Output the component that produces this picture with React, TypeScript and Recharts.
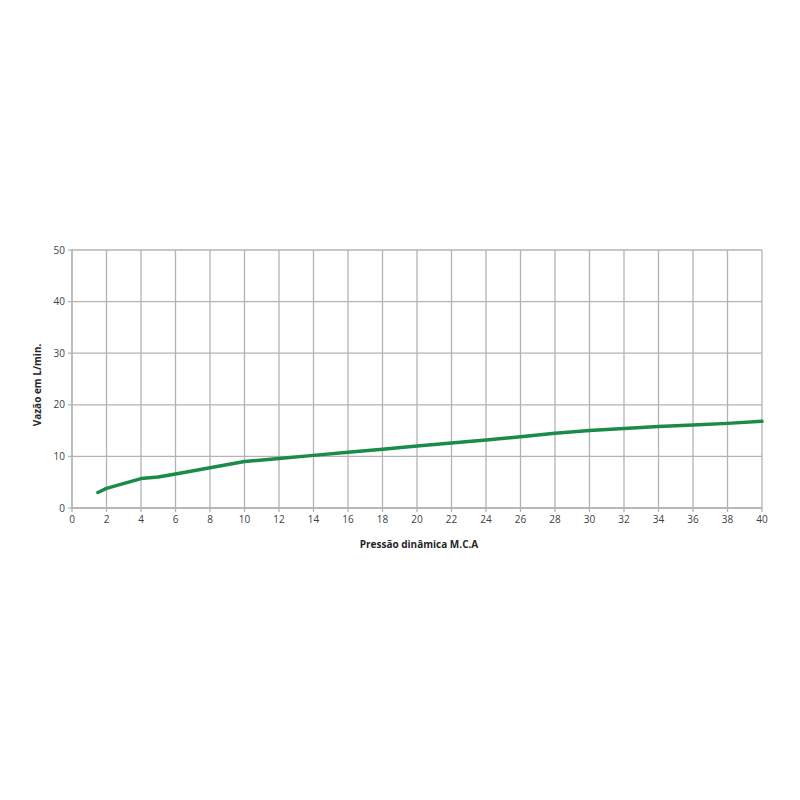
import { LineChart, Line, XAxis, YAxis, CartesianGrid, Label } from 'recharts';

const pressure = [1.5, 2, 4, 5, 6, 8, 10, 12, 14, 16, 18, 20, 22, 24, 26, 28, 30, 32, 34, 36, 38, 40];
const flow = [3.0, 3.8, 5.7, 6.0, 6.6, 7.8, 9.0, 9.6, 10.2, 10.8, 11.4, 12.0, 12.6, 13.2, 13.8, 14.5, 15.0, 15.4, 15.8, 16.1, 16.4, 16.8];
const xTicks = [0, 2, 4, 6, 8, 10, 12, 14, 16, 18, 20, 22, 24, 26, 28, 30, 32, 34, 36, 38, 40];
const yTicks = [0, 10, 20, 30, 40, 50];

const data = pressure.map((p, i) => ({ p, v: flow[i] }));

const grid = '#b3b3b3';
const tickStyle = { fontSize: 10, fill: '#404040', fontFamily: '"Open Sans", sans-serif' };

export default function App() {
  return (
    <div style={{ position: 'absolute', left: 0, top: 0, width: 800, height: 800, background: '#fff' }}>
      <LineChart width={800} height={800} data={data} margin={{ top: 250, right: 38, bottom: 248, left: 32 }}>
        <CartesianGrid stroke={grid} strokeWidth={1.3} verticalValues={xTicks} horizontalValues={yTicks} />
        <XAxis
          type="number"
          dataKey="p"
          domain={[0, 40]}
          ticks={xTicks}
          interval={0}
          height={44}
          tick={tickStyle}
          tickSize={4}
          tickMargin={4}
          axisLine={{ stroke: grid, strokeWidth: 1.3 }}
          tickLine={{ stroke: grid, strokeWidth: 1.3 }}
        >
          <Label
            content={({ viewBox }: any) => (
              <text
                x={viewBox.x + viewBox.width / 2 + 2}
                y={viewBox.y + 40}
                textAnchor="middle"
                fontSize={10}
                fontWeight="bold"
                fill="#262626"
                fontFamily='"Open Sans", sans-serif'
              >
                Pressão dinâmica M.C.A
              </text>
            )}
          />
        </XAxis>
        <YAxis
          type="number"
          domain={[0, 50]}
          ticks={yTicks}
          interval={0}
          width={40}
          tick={tickStyle}
          tickSize={4}
          tickMargin={3}
          axisLine={{ stroke: grid, strokeWidth: 1.3 }}
          tickLine={{ stroke: grid, strokeWidth: 1.3 }}
        >
          <Label
            content={({ viewBox }: any) => {
              const cx = viewBox.x + 9;
              const cy = viewBox.y + viewBox.height / 2 + 6;
              return (
                <text
                  x={cx}
                  y={cy}
                  transform={`rotate(-90 ${cx} ${cy})`}
                  textAnchor="middle"
                  fontSize={10}
                  fontWeight="bold"
                  fill="#262626"
                  fontFamily='"Open Sans", sans-serif'
                >
                  Vazão em L/min.
                </text>
              );
            }}
          />
        </YAxis>
        <Line
          type="linear"
          dataKey="v"
          stroke="#1b8c47"
          strokeWidth={3.5}
          strokeLinejoin="round"
          strokeLinecap="round"
          dot={false}
          isAnimationActive={false}
        />
      </LineChart>
    </div>
  );
}
